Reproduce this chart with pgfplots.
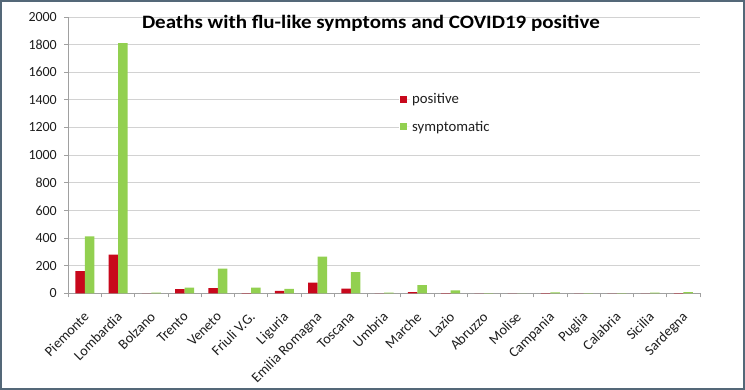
\documentclass[border=0pt]{standalone}
\usepackage{pgfplots}
\pgfplotsset{compat=1.18}
\usepackage{fontspec}
\setmainfont{Carlito}
\definecolor{posred}{RGB}{200,8,28}
\definecolor{symgreen}{RGB}{146,208,80}
\definecolor{framec}{RGB}{84,104,120}
\definecolor{gridc}{RGB}{210,210,210}
\definecolor{axc}{RGB}{160,160,160}
\definecolor{txt}{RGB}{30,30,30}
\begin{document}
\begin{tikzpicture}
\useasboundingbox (0,0) rectangle (745bp,390bp);
\fill[white] (0,0) rectangle (745bp,390bp);
\begin{axis}[
  at={(68.3bp,96.7bp)}, anchor=south west,
  scale only axis, width=631.7bp, height=276.3bp,
  xmin=-0.5, xmax=18.5, ymin=0, ymax=2000,
  ybar=0pt, bar width=9.5bp,
  axis x line*=bottom, axis y line*=left,
  axis line style={axc, line width=0.8bp},
  tick align=outside,
  major tick length=4bp, minor tick length=4bp,
  xtick={0,...,18},
  xticklabels={Piemonte,Lombardia,Bolzano,Trento,Veneto,Friuli V.G.,Liguria,Emilia Romagna,Toscana,Umbria,Marche,Lazio,Abruzzo,Molise,Campania,Puglia,Calabria,Sicilia,Sardegna},
  xtick style={/pgfplots/major tick length=0pt},
  minor xtick={-0.5,0.5,...,18.5},
  minor tick style={axc, line width=0.8bp},
  ytick={0,200,...,2000},
  ytick style={axc, line width=0.8bp},
  ymajorgrids, major grid style={gridc, line width=0.8bp},
  /pgf/number format/.cd, 1000 sep={}, assume math mode=true, /pgfplots/.cd,
  yticklabel style={font=\fontsize{14}{16}\selectfont, text=txt, xshift=-4bp},
  xticklabel style={font=\fontsize{14.3}{16}\selectfont, text=txt, rotate=45, anchor=north east, inner sep=1bp, xshift=-10bp, yshift=-7bp},
  title={\scalebox{1.11}[1]{Deaths with flu-like symptoms and COVID19 positive}},
  title style={font=\bfseries\fontsize{19}{21}\selectfont, text=black, at={(axis description cs:0.479,0.9374)}, anchor=base, inner sep=0pt},
  legend image code/.code={\fill[#1] (0bp,-3.5bp) rectangle (7bp,3.5bp); \path (0bp,0bp) -- (10bp,0bp);},
  legend style={draw=none, fill=none, at={(axis description cs:0.525,0.6525)}, anchor=west, inner sep=0pt, row sep=12bp, font=\fontsize{14.8}{16}\selectfont, text=txt},
  legend cell align=left,
]
\fill[white] (axis cs:9.45,1100) rectangle (axis cs:18.5,1500);
\addplot[fill=posred, draw=none] coordinates {
(0,160) (1,280) (2,0) (3,30) (4,37) (5,2) (6,17) (7,78) (8,34) (9,0)
(10,8) (11,1) (12,0) (13,0) (14,1) (15,0) (16,0) (17,0) (18,1)};
\addplot[fill=symgreen, draw=none] coordinates {
(0,412) (1,1810) (2,5) (3,41) (4,179) (5,41) (6,32) (7,265) (8,154) (9,5)
(10,59) (11,22) (12,2) (13,0) (14,7) (15,2) (16,1) (17,5) (18,9)};
\legend{positive,symptomatic}
\end{axis}
\draw[framec, line width=2bp] (1bp,1bp) rectangle (744bp,389bp);
\end{tikzpicture}
\end{document}
